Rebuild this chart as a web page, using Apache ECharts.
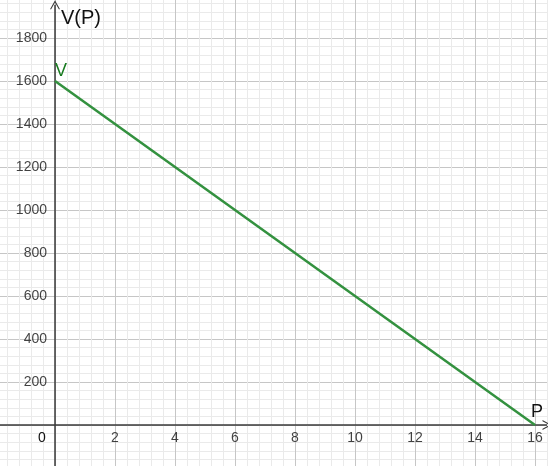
<!DOCTYPE html>
<html>
<head>
<meta charset="utf-8">
<script src="https://cdn.jsdelivr.net/npm/echarts@6/dist/echarts.min.js"></script>
<style>html,body{margin:0;padding:0;background:#fff}#c{width:548px;height:466px}</style>
</head>
<body>
<div id="c"></div>
<script>
// Data
const P = [0, 16];
const V = [1600, 0];
const xRange = [-2, 16.8];
const yRange = [-200, 2000];
const xTickLabels = [2, 4, 6, 8, 10, 12, 14, 16];
const yTickLabels = [200, 400, 600, 800, 1000, 1200, 1400, 1600, 1800];

const chevron = 'path://M0,12 L6,0 L12,12 L10.6,12 L6,3 L1.4,12 Z';
const font = 'Liberation Sans, Arial, sans-serif';

const chart = echarts.init(document.getElementById('c'));
chart.setOption({
  animation: false,
  backgroundColor: '#ffffff',
  grid: { left: -5, right: -11, top: -5, bottom: -2, containLabel: false, outerBoundsMode: 'none' },
  xAxis: {
    type: 'value', min: xRange[0], max: xRange[1], interval: 2,
    axisLine: { show: false },
    axisTick: { show: false },
    axisLabel: { show: false },
    minorTick: { show: false, splitNumber: 5 },
    splitLine: { show: true, lineStyle: { color: '#c6c6c6', width: 1 } },
    minorSplitLine: { show: true, lineStyle: { color: '#eaeaea', width: 1 } }
  },
  yAxis: {
    type: 'value', min: yRange[0], max: yRange[1], interval: 200,
    axisLine: { show: false },
    axisTick: { show: false },
    axisLabel: { show: false },
    minorTick: { show: false, splitNumber: 5 },
    splitLine: { show: true, lineStyle: { color: '#c6c6c6', width: 1 } },
    minorSplitLine: { show: true, lineStyle: { color: '#eaeaea', width: 1 } }
  },
  series: [
    {
      type: 'line',
      data: P.map((p, i) => [p, V[i]]),
      symbol: 'none',
      lineStyle: { color: '#33913f', width: 2.5 },
      z: 5,
      markLine: {
        silent: true, animation: false,
        symbol: ['none', chevron], symbolSize: [10, 9],
        lineStyle: { color: '#3a3a3a', width: 1.5, type: 'solid' },
        label: { show: false },
        z: 4,
        data: [
          [{ coord: [0, yRange[0]] }, { coord: [0, 1955] }],
          [{ coord: [xRange[0], 0] }, { coord: [16.4, 0] }]
        ]
      },
      markPoint: {
        silent: true, animation: false,
        symbol: 'circle', symbolSize: 0,
        data: [
          { coord: [P[0], V[0]], label: { show: true, formatter: 'V', offset: [6, -10], fontSize: 18, color: '#177a1f', fontFamily: font } },
          { coord: [0, 1955], label: { show: true, formatter: 'V(P)', offset: [26, 14], fontSize: 20, color: '#111', fontFamily: font } },
          { coord: [16, 0], label: { show: true, formatter: 'P', offset: [2, -13], fontSize: 18, color: '#111', fontFamily: font } },
          { coord: [0, 0], label: { show: true, formatter: '0', offset: [-13, 13], fontSize: 14, color: '#111', fontFamily: font } }
        ]
      }
    },
    {
      type: 'scatter', silent: true, symbolSize: 0,
      data: xTickLabels.map(v => [v, 0]),
      label: { show: true, position: 'bottom', distance: 6, formatter: p => String(p.value[0]), fontSize: 14, color: '#111', fontFamily: font }
    },
    {
      type: 'scatter', silent: true, symbolSize: 0,
      data: yTickLabels.map(v => [0, v]),
      label: { show: true, position: 'left', distance: 8, formatter: p => String(p.value[1]), fontSize: 14, color: '#111', fontFamily: font }
    }
  ]
});
</script>
</body>
</html>
